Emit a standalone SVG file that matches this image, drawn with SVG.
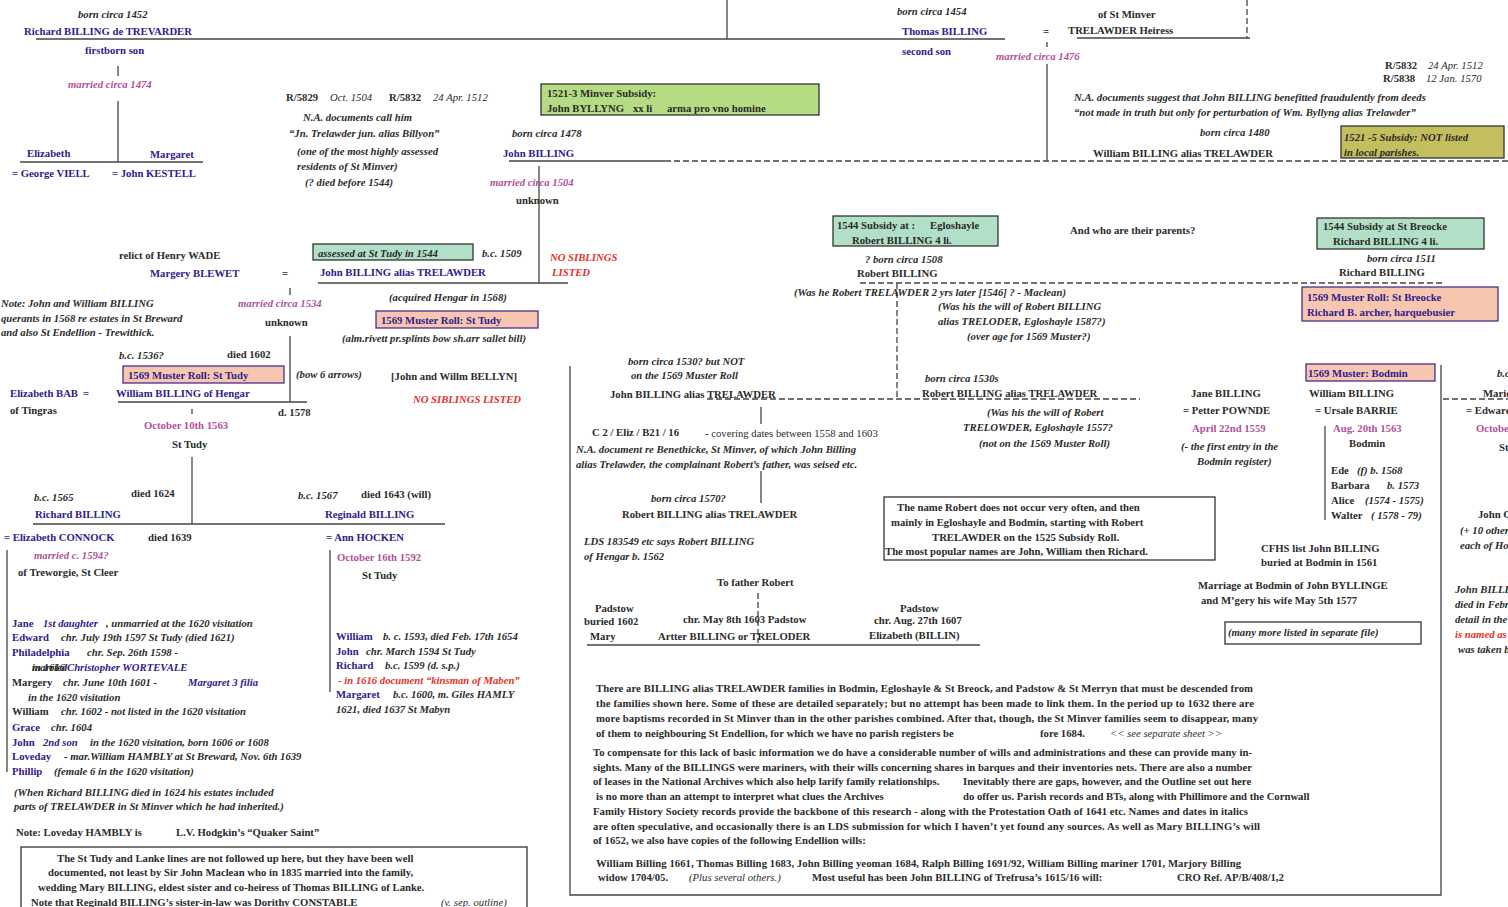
<svg xmlns="http://www.w3.org/2000/svg" width="1508" height="907" viewBox="0 0 1508 907" xml:space="preserve">
<style>
.t{font-family:"Liberation Serif","Times New Roman",serif;font-size:10.7px;font-weight:bold;fill:#2b2b2b}
.bl{fill:#30208c}
.pk{fill:#b0519c}
.rd{fill:#e5312b}
.it{font-style:italic}
.nw{font-weight:normal}
.ln{stroke:#444;stroke-width:1.3;fill:none}
.ds{stroke-dasharray:6 3}
.gr{fill:#b5dc83;stroke:#333;stroke-width:1.3}
.mt{fill:#b2dfc7;stroke:#333;stroke-width:1.3}
.ol{fill:#c3be5e;stroke:#333;stroke-width:1.3}
.sm{fill:#f6c6b0;stroke:#4a2d8f;stroke-width:1.3}
.nb{fill:#fff;stroke:#333;stroke-width:1.3}
</style>
<rect width="1508" height="907" fill="#fff"/>
<g id="connectors">
<line class="ln" x1="36" y1="39" x2="1005" y2="39"/>
<line class="ln" x1="727" y1="0" x2="727" y2="39"/>
<line class="ln" x1="118" y1="66" x2="118" y2="76"/>
<line class="ln" x1="118" y1="101" x2="118" y2="162"/>
<line class="ln" x1="20" y1="162" x2="203" y2="162"/>
<line class="ln" x1="1047" y1="42" x2="1047" y2="47"/>
<line class="ln" x1="1047" y1="64" x2="1047" y2="161"/>
<line class="ln" x1="1077" y1="38" x2="1250" y2="38"/>
<line class="ln ds" x1="1247" y1="0" x2="1247" y2="38"/>
<line class="ln" x1="509" y1="161" x2="665" y2="161"/>
<line class="ln ds" x1="665" y1="161" x2="1508" y2="161"/>
<line class="ln" x1="539" y1="166" x2="539" y2="283"/>
<line class="ln" x1="318" y1="283" x2="568" y2="283"/>
<line class="ln" x1="290" y1="288" x2="290" y2="295"/>
<line class="ln" x1="290" y1="336" x2="290" y2="402"/>
<line class="ln" x1="118" y1="402" x2="307" y2="402"/>
<line class="ln" x1="192" y1="409" x2="192" y2="414"/>
<line class="ln" x1="192" y1="457" x2="192" y2="524"/>
<line class="ln" x1="33" y1="524" x2="445" y2="524"/>
<line class="ln" x1="7" y1="550" x2="7" y2="772"/>
<line class="ln" x1="330" y1="550" x2="330" y2="692"/>
<line class="ln ds" x1="860" y1="283" x2="1445" y2="283"/>
<line class="ln ds" x1="897" y1="283" x2="897" y2="399"/>
<line class="ln ds" x1="707" y1="399" x2="1140" y2="399"/>
<line class="ln" x1="761" y1="407" x2="761" y2="424"/>
<line class="ln" x1="761" y1="471" x2="761" y2="503"/>
<line class="ln ds" x1="758" y1="593" x2="758" y2="643"/>
<line class="ln" x1="587" y1="645" x2="980" y2="645"/>
<line class="ln" x1="1325" y1="426" x2="1325" y2="520"/>
<line class="ln ds" x1="1443" y1="399" x2="1508" y2="399"/>
<polyline class="ln" points="570,366 570,895 1441,895 1441,365"/>
</g>
<g id="richard-1452">
<text class="t it" x="78" y="18">born circa 1452</text>
<text class="t bl" x="24" y="35">Richard BILLING de TREVARDER</text>
<text class="t bl" x="85" y="54">firstborn son</text>
<text class="t it pk" x="68" y="88">married circa 1474</text>
</g>
<g id="daughters-1474">
<text class="t bl" x="27" y="157">Elizabeth</text>
<text class="t bl" x="150" y="158">Margaret</text>
<text class="t bl" x="12" y="177">= George VIELL</text>
<text class="t bl" x="112" y="177">= John KESTELL</text>
</g>
<g id="thomas-1454">
<text class="t it" x="897" y="15">born circa 1454</text>
<text class="t bl" x="902" y="35">Thomas BILLING</text>
<text class="t bl" x="902" y="55">second son</text>
<text class="t" x="1043" y="35">=</text>
<text class="t it pk" x="996" y="60">married circa 1476</text>
</g>
<g id="trelawder-heiress">
<text class="t" x="1098" y="18">of St Minver</text>
<text class="t" x="1068" y="34">TRELAWDER Heiress</text>
</g>
<g id="records-1504">
<text class="t" x="286" y="101">R/5829</text>
<text class="t it nw" x="330" y="101">Oct. 1504</text>
<text class="t" x="389" y="101">R/5832</text>
<text class="t it nw" x="433" y="101">24 Apr. 1512</text>
<text class="t it" x="303" y="121">N.A. documents call him</text>
<text class="t it" x="289" y="137">“Jn. Trelawder jun. alias Billyon”</text>
<text class="t it" x="297" y="155">(one of the most highly assessed</text>
<text class="t it" x="297" y="170">residents of St Minver)</text>
<text class="t it" x="305" y="186">(? died before 1544)</text>
</g>
<g id="minver-subsidy">
<rect class="gr" x="541" y="84" width="278" height="31"/>
<text class="t" x="547" y="97">1521-3 Minver Subsidy:</text>
<text class="t" x="547" y="112">John BYLLYNG</text>
<text class="t" x="633" y="112">xx li</text>
<text class="t" x="667" y="112">arma pro vno homine</text>
</g>
<g id="john-1478">
<text class="t it" x="512" y="137">born circa 1478</text>
<text class="t bl" x="503" y="157">John BILLING</text>
<text class="t it pk" x="490" y="186">married circa 1504</text>
<text class="t" x="516" y="204">unknown</text>
</g>
<g id="william-1480">
<text class="t" x="1385" y="69">R/5832</text>
<text class="t it nw" x="1428" y="69">24 Apr. 1512</text>
<text class="t" x="1383" y="82">R/5838</text>
<text class="t it nw" x="1426" y="82">12 Jan. 1570</text>
<text class="t it" x="1074" y="101">N.A. documents suggest that John BILLING benefitted fraudulently from deeds</text>
<text class="t it" x="1074" y="116">“not made in truth but only for perturbation of Wm. Byllyng alias Trelawder”</text>
<text class="t it" x="1200" y="136">born circa 1480</text>
<text class="t" x="1093" y="157">William BILLING alias TRELAWDER</text>
<rect class="ol" x="1341" y="126" width="163" height="32"/>
<text class="t it" x="1344" y="141">1521 -5 Subsidy: NOT listed</text>
<text class="t it" x="1344" y="156">in local parishes.</text>
</g>
<g id="john-1509">
<rect class="mt" x="313" y="244" width="160" height="16"/>
<text class="t it" x="318" y="257">assessed at St Tudy in 1544</text>
<text class="t it" x="482" y="257">b.c. 1509</text>
<text class="t bl" x="320" y="276">John BILLING alias TRELAWDER</text>
<text class="t it rd" x="550" y="261">NO SIBLINGS</text>
<text class="t it rd" x="552" y="276">LISTED</text>
<text class="t it" x="389" y="301">(acquired Hengar in 1568)</text>
<rect class="sm" x="376" y="311" width="162" height="17"/>
<text class="t bl" x="381" y="324">1569 Muster Roll: St Tudy</text>
<text class="t it" x="342" y="342">(alm.rivett pr.splints bow sh.arr sallet bill)</text>
</g>
<g id="margery-blewet">
<text class="t" x="119" y="259">relict of Henry WADE</text>
<text class="t bl" x="150" y="277">Margery BLEWET</text>
<text class="t" x="282" y="277">=</text>
<text class="t it pk" x="238" y="307">married circa 1534</text>
<text class="t" x="265" y="326">unknown</text>
</g>
<g id="note-querants">
<text class="t it" x="1" y="307">Note: John and William BILLING</text>
<text class="t it" x="1" y="322">querants in 1568 re estates in St Breward</text>
<text class="t it" x="1" y="336">and also St Endellion - Trewithick.</text>
</g>
<g id="william-hengar">
<text class="t it" x="119" y="359">b.c. 1536?</text>
<text class="t" x="227" y="358">died 1602</text>
<rect class="sm" x="123" y="366" width="161" height="17"/>
<text class="t bl" x="128" y="379">1569 Muster Roll: St Tudy</text>
<text class="t it" x="296" y="378">(bow 6 arrows)</text>
<text class="t bl" x="116" y="397">William BILLING of Hengar</text>
<text class="t" x="278" y="416">d. 1578</text>
<text class="t pk" x="144" y="429">October 10th 1563</text>
<text class="t" x="172" y="448">St Tudy</text>
</g>
<g id="elizabeth-bab">
<text class="t bl" x="10" y="397">Elizabeth BAB</text>
<text class="t bl" x="83" y="397">=</text>
<text class="t" x="10" y="414">of Tingras</text>
</g>
<g id="bellyn">
<text class="t" x="391" y="380">[John and Willm BELLYN]</text>
<text class="t it rd" x="413" y="403">NO SIBLINGS LISTED</text>
</g>
<g id="richard-1565">
<text class="t it" x="34" y="501">b.c. 1565</text>
<text class="t" x="131" y="497">died 1624</text>
<text class="t bl" x="35" y="518">Richard BILLING</text>
<text class="t bl" x="4" y="541">= Elizabeth CONNOCK</text>
<text class="t" x="148" y="541">died 1639</text>
<text class="t it pk" x="34" y="559">married c. 1594?</text>
<text class="t" x="18" y="576">of Treworgie, St Cleer</text>
</g>
<g id="reginald-1567">
<text class="t it" x="298" y="499">b.c. 1567</text>
<text class="t" x="361" y="498">died 1643 (will)</text>
<text class="t bl" x="325" y="518">Reginald BILLING</text>
<text class="t bl" x="326" y="541">= Ann HOCKEN</text>
<text class="t pk" x="337" y="561">October 16th 1592</text>
<text class="t" x="362" y="579">St Tudy</text>
</g>
<g id="richard-children">
<text class="t bl" x="12" y="627">Jane</text>
<text class="t bl it" x="43" y="627">1st daughter</text>
<text class="t it" x="106" y="627">, unmarried at the 1620 visitation</text>
<text class="t bl" x="12" y="641">Edward</text>
<text class="t it" x="61" y="641">chr. July 19th 1597 St Tudy  (died 1621)</text>
<text class="t bl" x="12" y="656">Philadelphia</text>
<text class="t it" x="87" y="656">chr. Sep. 26th 1598 -</text>
<text class="t it" x="32" y="671">married</text>
<text class="t it" x="32" y="671">in 1616</text>
<text class="t it bl" x="67" y="671">Christopher WORTEVALE</text>
<text class="t" x="12" y="686">Margery</text>
<text class="t it" x="63" y="686">chr. June 10th 1601 -</text>
<text class="t it bl" x="188" y="686">Margaret 3 filia</text>
<text class="t it" x="28" y="701">in the 1620 visitation</text>
<text class="t" x="12" y="715">William</text>
<text class="t it" x="61" y="715">chr. 1602 -  not listed in the 1620 visitation</text>
<text class="t bl" x="12" y="731">Grace</text>
<text class="t it" x="51" y="731">chr. 1604</text>
<text class="t bl" x="12" y="746">John</text>
<text class="t it bl" x="43" y="746">2nd son</text>
<text class="t it" x="90" y="746">in the 1620 visitation, born  1606 or 1608</text>
<text class="t bl" x="12" y="760">Loveday</text>
<text class="t it" x="64" y="760">- mar.William HAMBLY at St Breward, Nov. 6th 1639</text>
<text class="t bl" x="12" y="775">Phillip</text>
<text class="t it" x="54" y="775">(female 6 in the 1620 visitation)</text>
</g>
<g id="reginald-children">
<text class="t bl" x="336" y="640">William</text>
<text class="t it" x="383" y="640">b. c. 1593, died Feb. 17th 1654</text>
<text class="t bl" x="336" y="655">John</text>
<text class="t it" x="366" y="655">chr. March 1594 St Tudy</text>
<text class="t bl" x="336" y="669">Richard</text>
<text class="t it" x="385" y="669">b.c. 1599 (d. s.p.)</text>
<text class="t it rd" x="338" y="684">- in 1616 document “kinsman of Maben”</text>
<text class="t bl" x="336" y="698">Margaret</text>
<text class="t it" x="393" y="698">b.c. 1600,  m. Giles HAMLY</text>
<text class="t it" x="336" y="713">1621, died 1637 St Mabyn</text>
</g>
<g id="notes-left">
<text class="t it" x="14" y="796">(When Richard BILLING died in 1624 his estates included</text>
<text class="t it" x="14" y="810">parts of TRELAWDER in St Minver which he had inherited.)</text>
<text class="t" x="16" y="836">Note: Loveday HAMBLY is</text>
<text class="t" x="176" y="836">L.V. Hodgkin’s “Quaker Saint”</text>
</g>
<g id="note-lanke">
<rect class="nb" x="21" y="847" width="506" height="80"/>
<text class="t" x="57" y="862">The St Tudy and Lanke lines are not followed up here, but they have been well</text>
<text class="t" x="48" y="876">documented, not least by Sir John Maclean who in 1835 married into the family,</text>
<text class="t" x="38" y="891">wedding Mary BILLING, eldest sister and co-heiress of Thomas BILLING of Lanke.</text>
<text class="t" x="31" y="906">Note that Reginald BILLING’s sister-in-law was Dorithy CONSTABLE</text>
<text class="t it nw" x="441" y="906">(v. sep. outline)</text>
</g>
<g id="john-1530">
<text class="t it" x="628" y="365">born circa 1530? but NOT</text>
<text class="t it" x="631" y="379">on the 1569 Muster Roll</text>
<text class="t" x="610" y="398">John BILLING alias TRELAWDER</text>
<text class="t" x="592" y="436">C 2 / Eliz / B21 / 16</text>
<text class="t nw" x="705" y="437">- covering dates between 1558 and 1603</text>
<text class="t it" x="576" y="453">N.A. document  re Benethicke, St Minver,  of which John Billing</text>
<text class="t it" x="576" y="468">alias Trelawder, the complainant Robert’s father, was seised etc.</text>
</g>
<g id="robert-1570">
<text class="t it" x="651" y="502">born circa 1570?</text>
<text class="t" x="622" y="518">Robert BILLING alias TRELAWDER</text>
<text class="t it" x="584" y="545">LDS 183549 etc  says Robert BILLING</text>
<text class="t it" x="584" y="560">of Hengar  b. 1562</text>
<text class="t" x="717" y="586">To father Robert</text>
</g>
<g id="padstow-children">
<text class="t" x="595" y="612">Padstow</text>
<text class="t" x="584" y="625">buried 1602</text>
<text class="t" x="590" y="640">Mary</text>
<text class="t" x="683" y="623">chr. May 8th 1603  Padstow</text>
<text class="t" x="658" y="640">Artter BILLING or TRELODER</text>
<text class="t" x="900" y="612">Padstow</text>
<text class="t" x="874" y="624">chr. Aug. 27th 1607</text>
<text class="t" x="869" y="639">Elizabeth (BILLIN)</text>
</g>
<g id="robert-1508">
<rect class="mt" x="833" y="216" width="165" height="30"/>
<text class="t" x="837" y="229">1544 Subsidy at :</text>
<text class="t" x="930" y="229">Egloshayle</text>
<text class="t" x="852" y="244">Robert BILLING  4 li.</text>
<text class="t it" x="865" y="263">? born circa 1508</text>
<text class="t" x="857" y="277">Robert BILLING</text>
<text class="t it" x="794" y="296">(Was he Robert TRELAWDER 2 yrs later [1546] ? - Maclean)</text>
<text class="t it" x="938" y="310">(Was his the will of Robert BILLING</text>
<text class="t it" x="938" y="325">alias TRELODER,  Egloshayle 1587?)</text>
<text class="t it" x="967" y="340">(over age for 1569 Muster?)</text>
</g>
<g id="parents-question">
<text class="t" x="1070" y="234">And who are their parents?</text>
</g>
<g id="richard-1511">
<rect class="mt" x="1317" y="218" width="167" height="31"/>
<text class="t" x="1323" y="230">1544 Subsidy at St Breocke</text>
<text class="t" x="1333" y="245">Richard BILLING  4 li.</text>
<text class="t it" x="1367" y="262">born circa 1511</text>
<text class="t" x="1339" y="276">Richard BILLING</text>
<rect class="sm" x="1302" y="287" width="196" height="34"/>
<text class="t bl" x="1307" y="301">1569 Muster Roll: St Breocke</text>
<text class="t bl" x="1307" y="316">Richard B.  archer, harquebusier</text>
</g>
<g id="robert-1530s">
<text class="t it" x="925" y="382">born circa 1530s</text>
<text class="t" x="922" y="397">Robert BILLING alias TRELAWDER</text>
<text class="t it" x="987" y="416">(Was his the will of Robert</text>
<text class="t it" x="963" y="431">TRELOWDER, Egloshayle  1557?</text>
<text class="t it" x="979" y="447">(not on the 1569 Muster Roll)</text>
</g>
<g id="note-robert-name">
<rect class="nb" x="884" y="497" width="331" height="63"/>
<text class="t" x="897" y="511">The name Robert does not occur very often, and then</text>
<text class="t" x="891" y="526">mainly in Egloshayle and Bodmin, starting with Robert</text>
<text class="t" x="932" y="541">TRELAWDER on the 1525 Subsidy Roll.</text>
<text class="t" x="885" y="555">The most popular names are John, William then Richard.</text>
</g>
<g id="jane-billing">
<text class="t" x="1191" y="397">Jane BILLING</text>
<text class="t" x="1183" y="414">= Petter POWNDE</text>
<text class="t pk" x="1192" y="432">April 22nd 1559</text>
<text class="t it" x="1181" y="450">(- the first entry in the</text>
<text class="t it" x="1197" y="465">Bodmin register)</text>
</g>
<g id="william-bodmin">
<rect class="sm" x="1306" y="364" width="129" height="17"/>
<text class="t bl" x="1308" y="377">1569 Muster: Bodmin</text>
<text class="t" x="1309" y="397">William BILLING</text>
<text class="t" x="1315" y="414">= Ursale  BARRIE</text>
<text class="t pk" x="1333" y="432">Aug. 20th 1563</text>
<text class="t" x="1349" y="447">Bodmin</text>
<text class="t" x="1331" y="474">Ede<tspan class="it" x="1357">(f) b. 1568</tspan></text>
<text class="t" x="1331" y="489">Barbara<tspan class="it" x="1387">b. 1573</tspan></text>
<text class="t" x="1331" y="504">Alice<tspan class="it" x="1365">(1574 - 1575)</tspan></text>
<text class="t" x="1331" y="519">Walter<tspan class="it" x="1371">( 1578 - 79)</tspan></text>
</g>
<g id="bodmin-notes">
<text class="t" x="1261" y="552">CFHS list John BILLING</text>
<text class="t" x="1261" y="566">buried at Bodmin in 1561</text>
<text class="t" x="1198" y="589">Marriage at Bodmin of John BYLLINGE</text>
<text class="t" x="1201" y="604">and M’gery his wife May 5th 1577</text>
<rect class="nb" x="1225" y="622" width="196" height="22"/>
<text class="t it" x="1228" y="636">(many more listed in separate file)</text>
</g>
<g id="right-edge">
<text class="t it" x="1497" y="377">b.c.</text>
<text class="t" x="1483" y="397">Marie</text>
<text class="t" x="1466" y="414">= Edward</text>
<text class="t pk" x="1476" y="432">October</text>
<text class="t" x="1499" y="451">St</text>
<text class="t" x="1478" y="518">John C</text>
<text class="t it" x="1460" y="534">(+ 10 other</text>
<text class="t it" x="1460" y="549">each of Ho</text>
<text class="t it" x="1455" y="593">John BILLING</text>
<text class="t it" x="1455" y="608">died in Febr</text>
<text class="t it" x="1455" y="623">detail in the</text>
<text class="t it rd" x="1455" y="638">is named as</text>
<text class="t it" x="1458" y="653">was taken b</text>
</g>
<g id="summary-text">
<text class="t" x="596" y="692" textLength="657" lengthAdjust="spacing">There are BILLING alias TRELAWDER families in Bodmin, Egloshayle &amp;  St Breock, and Padstow &amp; St Merryn that must be descended from</text>
<text class="t" x="596" y="707" textLength="658" lengthAdjust="spacing">the families shown here.     Some of these are detailed separately; but no attempt has been made to link them.  In the period up to 1632 there are</text>
<text class="t" x="596" y="722" textLength="662" lengthAdjust="spacing">more baptisms recorded in St Minver than in the other parishes combined.     After that, though, the St Minver families seem to disappear, many</text>
<text class="t" x="596" y="737">of them to neighbouring St Endellion, for which we have no parish registers be</text>
<text class="t" x="1040" y="737">fore 1684.</text>
<text class="t it nw" x="1110" y="737">&lt;&lt; see separate sheet &gt;&gt;</text>
<text class="t" x="593" y="756" textLength="659" lengthAdjust="spacing">To compensate for this lack of basic information we do have a considerable number of wills and administrations and these can provide many in-</text>
<text class="t" x="593" y="771" textLength="659" lengthAdjust="spacing">sights.  Many of the BILLINGS were mariners, with their wills concerning shares in barques and their inventories nets. There are also a number</text>
<text class="t" x="593" y="785">of leases in the National Archives which also help larify family relationships.</text>
<text class="t" x="963" y="785">Inevitably there are gaps, however, and the Outline set out here</text>
<text class="t" x="596" y="800">is no more than  an attempt to interpret what clues the Archives</text>
<text class="t" x="963" y="800">do offer us.  Parish records and BTs, along with Phillimore and the Cornwall</text>
<text class="t" x="593" y="815" textLength="655" lengthAdjust="spacing">Family History Society records provide the backbone of this research - along with the Protestation Oath of 1641 etc.  Names and dates in italics</text>
<text class="t" x="593" y="830" textLength="667" lengthAdjust="spacing">are often  speculative, and occasionally there is an  LDS submission for which I haven’t yet found any sources.     As well as Mary BILLING’s will</text>
<text class="t" x="593" y="844">of 1652, we also have copies of the following Endellion  wills:</text>
<text class="t" x="596" y="867" textLength="645" lengthAdjust="spacing">William Billing 1661, Thomas Billing 1683, John Billing  yeoman 1684, Ralph Billing  1691/92, William Billing mariner 1701, Marjory Billing</text>
<text class="t" x="598" y="881">widow 1704/05.</text>
<text class="t it nw" x="689" y="881">(Plus several others.)</text>
<text class="t" x="812" y="881">Most useful has been John BILLING of Trefrusa’s 1615/16 will:</text>
<text class="t" x="1177" y="881">CRO Ref. AP/B/408/1,2</text>
</g>
</svg>
